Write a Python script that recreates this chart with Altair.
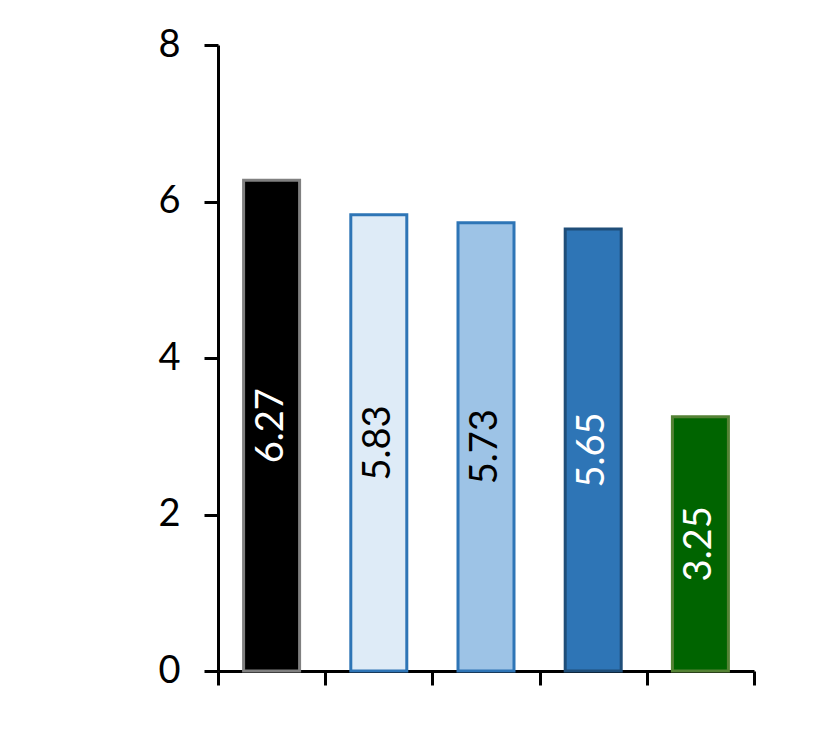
import altair as alt
import pandas as pd

categories = ["A", "B", "C", "D", "E"]
values = [6.27, 5.83, 5.73, 5.65, 3.25]
labels = ["6.27", "5.83", "5.73", "5.65", "3.25"]
fills = ["#000000", "#DEEBF7", "#9DC3E6", "#2E75B6", "#006400"]
strokes = ["#808080", "#2E75B6", "#2E75B6", "#1F4E79", "#548235"]
text_colors = ["#FFFFFF", "#000000", "#000000", "#FFFFFF", "#FFFFFF"]
y_ticks = [0, 2, 4, 6, 8]

df = pd.DataFrame({
    "cat": categories,
    "value": values,
    "label": labels,
    "fill": fills,
    "stroke": strokes,
    "tcolor": text_colors,
})
df["half"] = df["value"] / 2

FONT = "Lato"

x_enc = alt.X(
    "cat:N",
    sort=categories,
    scale=alt.Scale(paddingInner=0, paddingOuter=0),
    axis=alt.Axis(
        labels=False, title=None, tickBand="extent", tickSize=14, tickWidth=3,
        domainWidth=3, domainColor="#000000", tickColor="#000000", grid=False,
    ),
)

bars = alt.Chart(df).mark_bar(strokeWidth=3, width=56).encode(
    x=x_enc,
    y=alt.Y(
        "value:Q",
        scale=alt.Scale(domain=[0, 8], nice=False),
        axis=alt.Axis(
            values=y_ticks, format="d", title=None, grid=False, tickSize=14,
            tickWidth=3, domainWidth=3, domainColor="#000000",
            tickColor="#000000", labelFont=FONT, labelFontSize=38,
            labelColor="#000000", labelPadding=24,
        ),
    ),
    fill=alt.Fill("fill:N", scale=None),
    stroke=alt.Stroke("stroke:N", scale=None),
)

texts = alt.Chart(df).mark_text(
    angle=270, align="center", baseline="middle", font=FONT, fontSize=38
).encode(
    x=alt.X("cat:N", sort=categories),
    y=alt.Y("half:Q"),
    text="label:N",
    color=alt.Color("tcolor:N", scale=None),
)

chart = (
    alt.layer(bars, texts)
    .properties(
        width=536,
        height=626,
        autosize=alt.AutoSizeParams(type="none"),
        padding={"left": 210, "top": 37, "right": 60, "bottom": 50},
        background="#FFFFFF",
    )
    .configure_view(stroke=None)
)

chart.save("out.html", embed_options={"renderer": "svg", "actions": False})
